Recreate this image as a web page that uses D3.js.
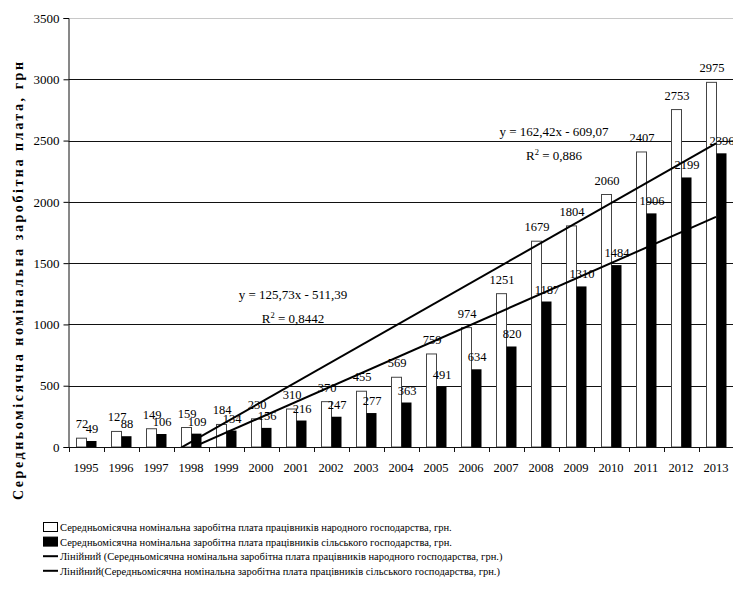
<!DOCTYPE html>
<html>
<head>
<meta charset="utf-8">
<script src="https://cdn.jsdelivr.net/npm/d3@7/dist/d3.min.js"></script>
<style>
    body { margin: 0; background: #fff; }
    svg { display: block; font-family: "Liberation Serif", "Times New Roman", serif; }
</style>
</head>
<body>
<svg id="chart" width="733" height="594"></svg>
<script>
// chart values
var years = ["1995", "1996", "1997", "1998", "1999", "2000", "2001", "2002", "2003", "2004",
    "2005", "2006", "2007", "2008", "2009", "2010", "2011", "2012", "2013"];
var nationalWage = [72, 127, 149, 159, 184, 230, 310, 370, 455, 569, 759, 974, 1251, 1679, 1804, 2060, 2407, 2753, 2975];
var agriWage = [49, 88, 106, 109, 134, 156, 216, 247, 277, 363, 491, 634, 820, 1187, 1310, 1484, 1906, 2199, 2396];
var trendNational = [162.42, -609.07];   // slope, intercept (x = 1..19)
var trendAgri = [125.73, -511.39];
var yTicks = [0, 500, 1000, 1500, 2000, 2500, 3000, 3500];
var legendLabels = [
    "Середньомісячна номінальна заробітна плата працівників народного господарства, грн.",
    "Середньомісячна номінальна заробітна плата працівників сільського господарства, грн.",
    "Лінійний (Середньомісячна номінальна заробітна плата працівників народного господарства, грн.)",
    "Лінійний(Середньомісячна номінальна заробітна плата працівників сільського господарства, грн.)"
];
var yTitle = "Середньомісячна номінальна заробітна плата, грн";

var svg = d3.select("#chart");
var plotLeft = 68.5, plotRight = 733.5, plotTop = 18, plotBottom = 447;

var x = d3.scaleBand().domain(years).range([plotLeft, plotRight]).padding(0);
var bw = 10;
var y = d3.scaleLinear().domain([0, 3500]).range([plotBottom, plotTop]);
// trend line x (category number) -> pixel
var xt = d3.scaleLinear().domain([1, years.length])
    .range([x(years[0]) + x.bandwidth() / 2, x(years[years.length - 1]) + x.bandwidth() / 2]);

// gridlines
svg.append("g").selectAll("line")
    .data(yTicks.filter(function(d){ return d > 0; }))
    .join("line")
        .attr("x1", plotLeft)
        .attr("x2", plotRight)
        .attr("y1", function(d){ return Math.round(y(d)) + 0.5; })
        .attr("y2", function(d){ return Math.round(y(d)) + 0.5; })
        .attr("stroke", function(d){ return d == 3500 ? "#c8c8c8" : "#111"; })
        .attr("stroke-width", 1);

// bars
var groups = svg.append("g").selectAll("g")
    .data(years)
    .join("g")
        .attr("transform", function(d){ return "translate(" + (x(d) + x.bandwidth() / 2) + ",0)"; });

groups.append("rect")
    .attr("x", -bw + 0.5)
    .attr("y", function(d, i){ return y(nationalWage[i]); })
    .attr("width", bw)
    .attr("height", function(d, i){ return plotBottom - y(nationalWage[i]); })
    .attr("fill", "#fff")
    .attr("stroke", "#444")
    .attr("stroke-width", 1);

groups.append("rect")
    .attr("x", 0.5)
    .attr("y", function(d, i){ return y(agriWage[i]); })
    .attr("width", bw)
    .attr("height", function(d, i){ return plotBottom - y(agriWage[i]); })
    .attr("fill", "#000");

// trend lines, clipped to plot area
svg.append("clipPath").attr("id", "plotClip")
    .append("rect").attr("x", plotLeft).attr("y", plotTop)
    .attr("width", plotRight - plotLeft).attr("height", plotBottom - plotTop);

var trendLine = d3.line()
    .x(function(d){ return xt(d[0]); })
    .y(function(d){ return y(d[1]); });

[trendNational, trendAgri].forEach(function(t){
    var pts = [[1, t[0] * 1 + t[1]], [years.length, t[0] * years.length + t[1]]];
    svg.append("path")
        .attr("d", trendLine(pts))
        .attr("clip-path", "url(#plotClip)")
        .attr("fill", "none")
        .attr("stroke", "#000")
        .attr("stroke-width", 2);
});

// data labels
groups.append("text")
    .attr("x", -bw / 2 + 1)
    .attr("y", function(d, i){ return y(nationalWage[i]) - 10; })
    .attr("text-anchor", "middle")
    .attr("font-size", 12.5)
    .text(function(d, i){ return nationalWage[i]; });

groups.append("text")
    .attr("x", bw / 2 + 1)
    .attr("y", function(d, i){ return y(agriWage[i]) - 8; })
    .attr("text-anchor", "middle")
    .attr("font-size", 12.5)
    .text(function(d, i){ return agriWage[i]; });

// axes
var yAxis = svg.append("g")
    .attr("transform", "translate(" + plotLeft + ",0)")
    .call(d3.axisLeft(y).tickValues(yTicks).tickSize(5).tickPadding(4).tickFormat(d3.format("d")));
yAxis.select(".domain").attr("stroke", "#111");
yAxis.selectAll("text").attr("font-size", 13).attr("font-family", "Liberation Serif").attr("fill", "#000");

var xAxis = svg.append("g")
    .attr("transform", "translate(0," + plotBottom + ")")
    .call(d3.axisBottom(x).tickSize(0).tickPadding(16));
xAxis.select(".domain").attr("stroke", "#111");
xAxis.selectAll("text").attr("font-size", 12.5).attr("font-family", "Liberation Serif").attr("fill", "#000");
xAxis.selectAll("line.sep")
    .data(years)
    .join("line")
        .attr("class", "sep")
        .attr("x1", function(d){ return Math.round(x(d)) + 0.5; })
        .attr("x2", function(d){ return Math.round(x(d)) + 0.5; })
        .attr("y1", 0)
        .attr("y2", 5)
        .attr("stroke", "#111");

// regression equations
function equation(cx, by, eq, r2)
{
    svg.append("text")
        .attr("x", cx).attr("y", by)
        .attr("text-anchor", "middle")
        .attr("font-size", 13)
        .text(eq);
    var t = svg.append("text")
        .attr("x", cx).attr("y", by + 24)
        .attr("text-anchor", "middle")
        .attr("font-size", 13);
    t.append("tspan").text("R");
    t.append("tspan").attr("dy", -5).attr("font-size", 8.5).text("2");
    t.append("tspan").attr("dy", 5).text(" = " + r2);
}
equation(554, 136, "y = 162,42x - 609,07", "0,886");
equation(293, 299, "y = 125,73x - 511,39", "0,8442");

// y title, stretched to the same span as the original
svg.append("text")
    .attr("transform", "translate(23,500) rotate(-90)")
    .attr("text-anchor", "start")
    .attr("font-size", 14)
    .attr("font-weight", "bold")
    .attr("textLength", 438)
    .attr("lengthAdjust", "spacing")
    .text(yTitle);

// legend
var legend = svg.append("g").attr("transform", "translate(43,0)");
legendLabels.forEach(function(label, i){
    var ly = 527 + i * 14.6;
    if (i < 2)
    {
        legend.append("rect")
            .attr("x", 0.5).attr("y", ly - 4.5)
            .attr("width", 14).attr("height", 9)
            .attr("fill", i == 0 ? "#fff" : "#000")
            .attr("stroke", "#000");
    }
    else
    {
        legend.append("line")
            .attr("x1", 0).attr("x2", 15)
            .attr("y1", ly).attr("y2", ly)
            .attr("stroke", "#000").attr("stroke-width", 2);
    }
    legend.append("text")
        .attr("x", 17).attr("y", ly + 4)
        .attr("font-size", 10.5)
        .text(label);
});
</script>
</body>
</html>
